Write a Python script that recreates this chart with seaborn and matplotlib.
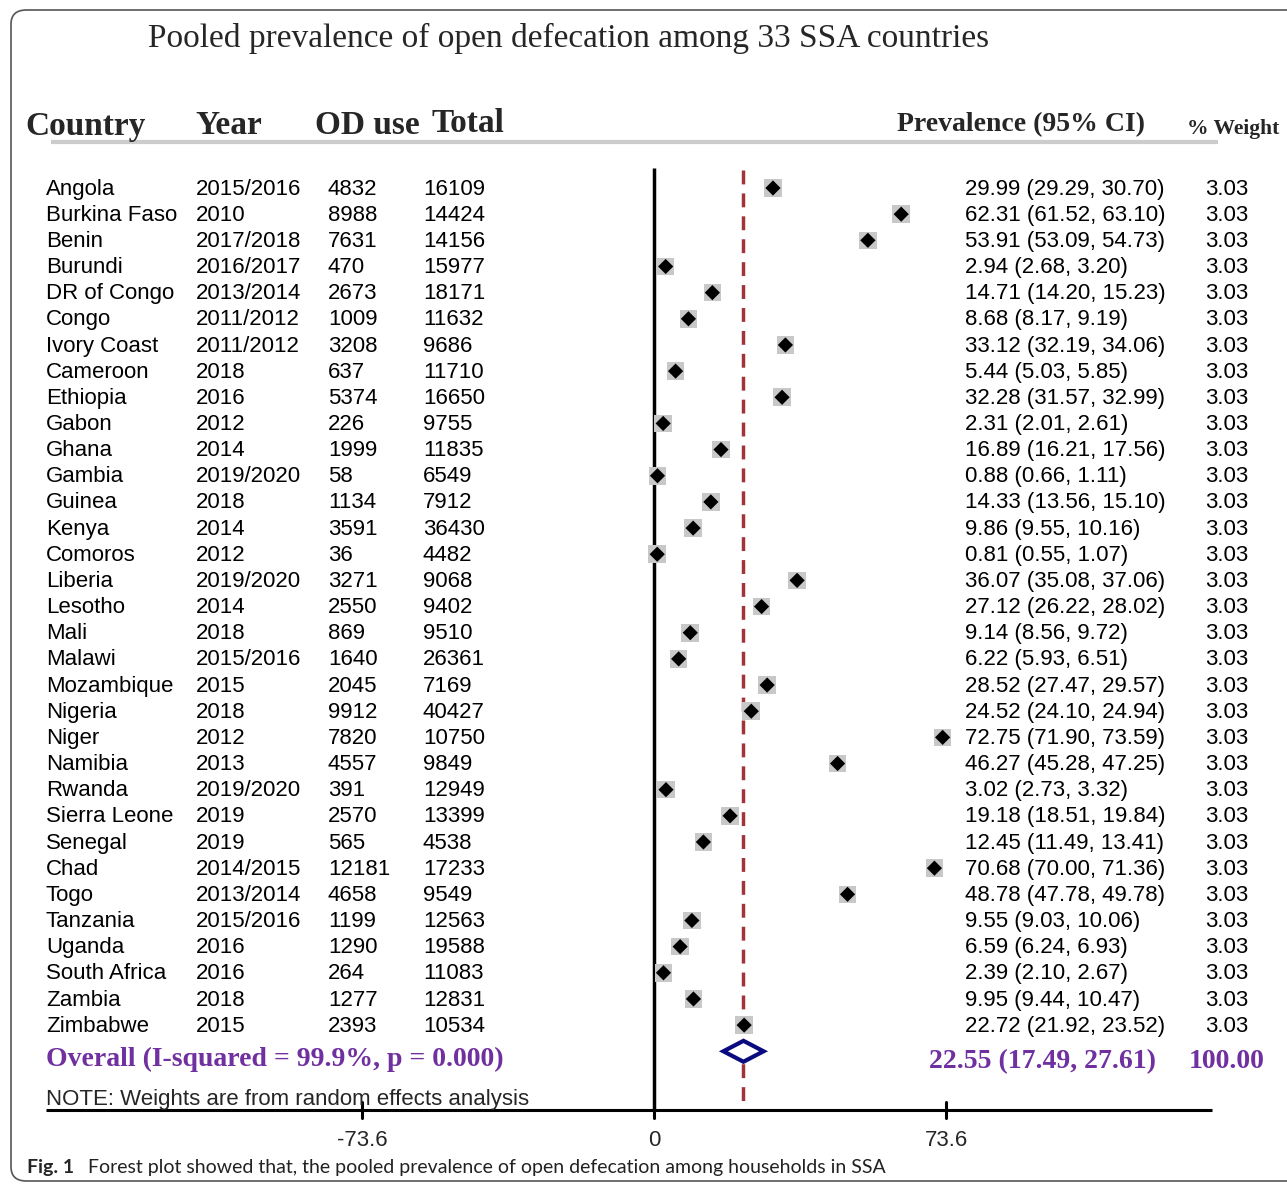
import matplotlib
matplotlib.use("Agg")
import matplotlib.pyplot as plt
import seaborn as sns
import pandas as pd
from matplotlib.transforms import blended_transform_factory
from matplotlib.patches import FancyBboxPatch, Polygon

countries = ["Angola", "Burkina Faso", "Benin", "Burundi", "DR of Congo", "Congo",
             "Ivory Coast", "Cameroon", "Ethiopia", "Gabon", "Ghana", "Gambia",
             "Guinea", "Kenya", "Comoros", "Liberia", "Lesotho", "Mali", "Malawi",
             "Mozambique", "Nigeria", "Niger", "Namibia", "Rwanda", "Sierra Leone",
             "Senegal", "Chad", "Togo", "Tanzania", "Uganda", "South Africa",
             "Zambia", "Zimbabwe"]
years = ["2015/2016", "2010", "2017/2018", "2016/2017", "2013/2014", "2011/2012",
         "2011/2012", "2018", "2016", "2012", "2014", "2019/2020", "2018", "2014",
         "2012", "2019/2020", "2014", "2018", "2015/2016", "2015", "2018", "2012",
         "2013", "2019/2020", "2019", "2019", "2014/2015", "2013/2014", "2015/2016",
         "2016", "2016", "2018", "2015"]
od_use = [4832, 8988, 7631, 470, 2673, 1009, 3208, 637, 5374, 226, 1999, 58, 1134,
          3591, 36, 3271, 2550, 869, 1640, 2045, 9912, 7820, 4557, 391, 2570, 565,
          12181, 4658, 1199, 1290, 264, 1277, 2393]
total = [16109, 14424, 14156, 15977, 18171, 11632, 9686, 11710, 16650, 9755, 11835,
         6549, 7912, 36430, 4482, 9068, 9402, 9510, 26361, 7169, 40427, 10750, 9849,
         12949, 13399, 4538, 17233, 9549, 12563, 19588, 11083, 12831, 10534]
prevalence = [29.99, 62.31, 53.91, 2.94, 14.71, 8.68, 33.12, 5.44, 32.28, 2.31, 16.89,
              0.88, 14.33, 9.86, 0.81, 36.07, 27.12, 9.14, 6.22, 28.52, 24.52, 72.75,
              46.27, 3.02, 19.18, 12.45, 70.68, 48.78, 9.55, 6.59, 2.39, 9.95, 22.72]
ci_lower = [29.29, 61.52, 53.09, 2.68, 14.20, 8.17, 32.19, 5.03, 31.57, 2.01, 16.21,
            0.66, 13.56, 9.55, 0.55, 35.08, 26.22, 8.56, 5.93, 27.47, 24.10, 71.90,
            45.28, 2.73, 18.51, 11.49, 70.00, 47.78, 9.03, 6.24, 2.10, 9.44, 21.92]
ci_upper = [30.70, 63.10, 54.73, 3.20, 15.23, 9.19, 34.06, 5.85, 32.99, 2.61, 17.56,
            1.11, 15.10, 10.16, 1.07, 37.06, 28.02, 9.72, 6.51, 29.57, 24.94, 73.59,
            47.25, 3.32, 19.84, 13.41, 71.36, 49.78, 10.06, 6.93, 2.67, 10.47, 23.52]
weights = [3.03, 3.03, 3.03, 3.03, 3.03, 3.03, 3.03, 3.03, 3.03, 3.03, 3.03, 3.03,
           3.03, 3.03, 3.03, 3.03, 3.03, 3.03, 3.03, 3.03, 3.03, 3.03, 3.03, 3.03,
           3.03, 3.03, 3.03, 3.03, 3.03, 3.03, 3.03, 3.03, 3.03]
pooled = [22.55, 17.49, 27.61]   # estimate, lower, upper
pooled_weight = 100.00
i_squared = 99.9
p_value = 0.000
axis_ticks = [-73.6, 0, 73.6]

df = pd.DataFrame({"country": countries, "prev": prevalence,
                   "lo": ci_lower, "hi": ci_upper})
df["row"] = range(len(df))

sns.set_theme(style="white")
plt.rcParams["font.family"] = ["Liberation Sans", "DejaVu Sans"]

W, H = 1287, 1184
fig = plt.figure(figsize=(W / 100, H / 100), dpi=100)
ax = fig.add_axes([0, 0, 1, 1])
ax.axis("off")

# scale: 0 at px 654, 73.6 at px 946 ; rows: row0 at py 188, 26.16 px per row
pxu = (946 - 654) / 73.6
rowpx = 26.16
ax.set_xlim(-654 / pxu, (W - 654) / pxu)
ax.set_ylim((H - 188) / rowpx, -188 / rowpx)

def row_of(py):
    return (py - 188) / rowpx

def x_of(px):
    return (px - 654) / pxu

tr = blended_transform_factory(fig.transFigure, ax.transData)

# frame
fig.patches.append(FancyBboxPatch((11 / W, 3 / H), 1.2, (H - 13) / H,
                                  boxstyle="round,pad=0,rounding_size=0.012",
                                  transform=fig.transFigure, fill=False,
                                  edgecolor="#555555", linewidth=1.2))

serif = ["Liberation Serif", "DejaVu Serif"]
fig.text(148 / W, 1 - 38 / H, "Pooled prevalence of open defecation among 33 SSA countries",
         family=serif, fontsize=24, va="center", ha="left")

# headers
hdr_y = 1 - 126 / H
fig.text(25 / W, hdr_y, "Country", family=serif, weight="bold", fontsize=24, va="center")
fig.text(195 / W, hdr_y, "Year", family=serif, weight="bold", fontsize=24, va="center")
fig.text(315 / W, hdr_y, "OD use", family=serif, weight="bold", fontsize=24, va="center")
fig.text(432 / W, 1 - 123 / H, "Total", family=serif, weight="bold", fontsize=24, va="center")
fig.text(897 / W, 1 - 125 / H, "Prevalence (95% CI)", family=serif, weight="bold",
         fontsize=20, va="center")
fig.text(1187 / W, 1 - 129 / H, "% Weight", family=serif, weight="bold",
         fontsize=15.5, va="center")
ax.plot([x_of(51), x_of(1218)], [row_of(141.5)] * 2, color="#cccccc", lw=3,
        solid_capstyle="butt")

# rows
for i in range(len(countries)):
    kw = dict(transform=tr, va="center", ha="left", fontsize=16, color="black")
    ax.text(46 / W, i + 0.04, countries[i], **kw)
    ax.text(196 / W, i + 0.04, years[i], **kw)
    ax.text(328 / W, i + 0.04, str(od_use[i]), **kw)
    ax.text(423 / W, i + 0.04, str(total[i]), **kw)
    ax.text(965 / W, i + 0.04, f"{prevalence[i]:.2f} ({ci_lower[i]:.2f}, {ci_upper[i]:.2f})", **kw)
    ax.text(1205 / W, i + 0.04, f"{weights[i]:.2f}", **kw)

n = len(countries)
purple = "#7030A0"
ax.text(46 / W, row_of(1059), f"Overall (I-squared = {i_squared:.1f}%, p = {p_value:.3f})",
        transform=tr, va="center", ha="left", family=serif, weight="bold",
        fontsize=20, color=purple)
ax.text(929 / W, row_of(1062), f"{pooled[0]:.2f} ({pooled[1]:.2f}, {pooled[2]:.2f})",
        transform=tr, va="center", ha="left", family=serif, weight="bold",
        fontsize=20, color=purple)
ax.text(1189 / W, row_of(1062), f"{pooled_weight:.2f}", transform=tr, va="center",
        ha="left", family=serif, weight="bold", fontsize=20, color=purple)

# vertical lines
ax.vlines(0, row_of(168), row_of(1110), color="black", lw=2.5)
ax.vlines(pooled[0], row_of(170), row_of(1104), color="#A1333A", lw=2.5,
          linestyles=(0, (4, 2.6)))

# CI lines, weight squares, point diamonds
ax.hlines(df["row"], df["lo"], df["hi"], color="black", lw=1)
sns.scatterplot(data=df, x="prev", y="row", marker="s", s=160, color="#c8c8c8",
                edgecolor="none", ax=ax, legend=False, zorder=3)
sns.scatterplot(data=df, x="prev", y="row", marker="D", s=60, color="black",
                edgecolor="none", ax=ax, legend=False, zorder=4)

# pooled diamond
h = 0.4
ax.add_patch(Polygon([(pooled[1], n), (pooled[0], n - h), (pooled[2], n), (pooled[0], n + h)],
                     closed=True, facecolor="white", edgecolor="#0B0B80", lw=3, zorder=5))

# x axis
axis_row = row_of(1110)
ax.plot([x_of(46), x_of(1212)], [axis_row, axis_row], color="black", lw=2.2,
        solid_capstyle="butt")
for t in axis_ticks:
    top = row_of(1118)
    bot = row_of(1102) if t != 0 else row_of(1110)
    ax.plot([t, t], [bot, top], color="black", lw=2.2)
    ax.text(t, row_of(1141), f"{t:g}", ha="center", va="center", fontsize=16)

fig.text(46 / W, 1 - 1100 / H, "NOTE: Weights are from random effects analysis",
         fontsize=16, va="center", ha="left")

# caption
cap_font = ["Lato", "DejaVu Sans"]
fig.text(27 / W, 1 - 1168 / H, "Fig. 1", family=cap_font, weight="bold",
         fontsize=14, va="center", ha="left")
fig.text(88 / W, 1 - 1168 / H,
         "Forest plot showed that, the pooled prevalence of open defecation among households in SSA",
         family=cap_font, fontsize=14, va="center", ha="left", color="#222222")

fig.savefig("out.png", dpi=100)
